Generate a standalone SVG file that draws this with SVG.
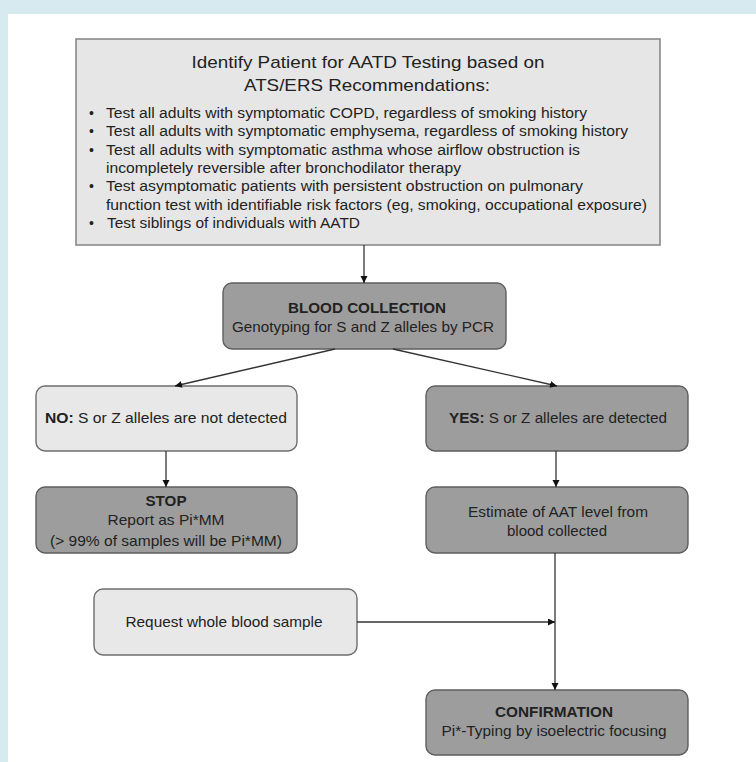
<svg xmlns="http://www.w3.org/2000/svg" width="756" height="762" viewBox="0 0 756 762">
<defs>
<marker id="ah" markerWidth="8" markerHeight="8" refX="7" refY="3.5" orient="auto" markerUnits="userSpaceOnUse">
<path d="M0,0 L7,3.5 L0,7 z" fill="#111"/>
</marker>
<style>
text{font-family:"Liberation Sans",Arial,sans-serif;fill:#222;}
.t{font-size:15px;}
.b{font-size:14.5px;}
.bold{font-weight:bold;}
.top{fill:#e6e6e6;stroke:#8a8a8a;stroke-width:1.6;}
.light{fill:#e8e8e8;stroke:#6e6e6e;stroke-width:1.4;}
.dark{fill:#9d9d9d;stroke:#5e5e5e;stroke-width:1.4;}
.c{stroke:#333;stroke-width:1.3;fill:none;marker-end:url(#ah);}
</style>
</defs>
<rect x="0" y="0" width="756" height="762" fill="#d6eaf0"/>
<rect x="8" y="14" width="748" height="748" fill="#ffffff"/>

<g id="identify">
<rect class="top" x="76" y="39" width="584" height="206"/>
<text x="368" y="68" text-anchor="middle" style="font-size:17px" textLength="353" lengthAdjust="spacingAndGlyphs">Identify Patient for AATD Testing based on</text>
<text x="367" y="91" text-anchor="middle" style="font-size:17px" textLength="246" lengthAdjust="spacingAndGlyphs">ATS/ERS Recommendations:</text>
<g style="font-size:14px">
<text x="89" y="118">•</text>
<text x="106" y="118" textLength="481" lengthAdjust="spacingAndGlyphs">Test all adults with symptomatic COPD, regardless of smoking history</text>
<text x="89" y="136">•</text>
<text x="106" y="136" textLength="522" lengthAdjust="spacingAndGlyphs">Test all adults with symptomatic emphysema, regardless of smoking history</text>
<text x="89" y="155">•</text>
<text x="106" y="155" textLength="474" lengthAdjust="spacingAndGlyphs">Test all adults with symptomatic asthma whose airflow obstruction is</text>
<text x="106" y="173" textLength="355" lengthAdjust="spacingAndGlyphs">incompletely reversible after bronchodilator therapy</text>
<text x="89" y="191">•</text>
<text x="106" y="191" textLength="477" lengthAdjust="spacingAndGlyphs">Test asymptomatic patients with persistent obstruction on pulmonary</text>
<text x="106" y="210" textLength="541" lengthAdjust="spacingAndGlyphs">function test with identifiable risk factors (eg, smoking, occupational exposure)</text>
<text x="89" y="228">•</text>
<text x="107" y="228" textLength="253" lengthAdjust="spacingAndGlyphs">Test siblings of individuals with AATD</text>
</g>
</g>

<g id="blood">
<rect class="dark" x="223" y="283" width="283" height="66" rx="9"/>
<text class="b bold" x="367" y="313" text-anchor="middle" textLength="158" lengthAdjust="spacingAndGlyphs">BLOOD COLLECTION</text>
<text class="t" x="363" y="332" text-anchor="middle" textLength="262" lengthAdjust="spacingAndGlyphs">Genotyping for S and Z alleles by PCR</text>
</g>

<g id="no">
<rect class="light" x="36" y="386" width="261" height="65" rx="9"/>
<text class="t" x="166" y="423" text-anchor="middle" textLength="242" lengthAdjust="spacingAndGlyphs"><tspan class="bold">NO:</tspan> S or Z alleles are not detected</text>
</g>

<g id="yes">
<rect class="dark" x="426" y="386" width="262" height="65" rx="9"/>
<text class="t" x="558" y="423" text-anchor="middle" textLength="218" lengthAdjust="spacingAndGlyphs"><tspan class="bold">YES:</tspan> S or Z alleles are detected</text>
</g>

<g id="stop">
<rect class="dark" x="36" y="487" width="261" height="66" rx="9"/>
<text class="b bold" x="166" y="506" text-anchor="middle" textLength="41" lengthAdjust="spacingAndGlyphs">STOP</text>
<text class="t" x="166" y="525" text-anchor="middle" textLength="117" lengthAdjust="spacingAndGlyphs">Report as Pi*MM</text>
<text class="t" x="166" y="546" text-anchor="middle" textLength="232" lengthAdjust="spacingAndGlyphs">(&gt; 99% of samples will be Pi*MM)</text>
</g>

<g id="estimate">
<rect class="dark" x="426" y="487" width="262" height="66" rx="9"/>
<text class="t" x="558" y="517" text-anchor="middle" textLength="180" lengthAdjust="spacingAndGlyphs">Estimate of AAT level from</text>
<text class="t" x="557" y="536" text-anchor="middle">blood collected</text>
</g>

<g id="request">
<rect class="light" x="94" y="589" width="263" height="66" rx="9"/>
<text class="t" x="224" y="627" text-anchor="middle" textLength="197" lengthAdjust="spacingAndGlyphs">Request whole blood sample</text>
</g>

<g id="confirmation">
<rect class="dark" x="426" y="690" width="262" height="65" rx="9"/>
<text class="b bold" x="554" y="717" text-anchor="middle" textLength="118" lengthAdjust="spacingAndGlyphs">CONFIRMATION</text>
<text class="t" x="554" y="736" text-anchor="middle" textLength="225" lengthAdjust="spacingAndGlyphs">Pi*-Typing by isoelectric focusing</text>
</g>

<g id="connectors">
<line class="c" x1="364" y1="245" x2="364" y2="283"/>
<line class="c" x1="335" y1="349" x2="175" y2="386"/>
<line class="c" x1="393" y1="349" x2="557" y2="386"/>
<line class="c" x1="166" y1="451" x2="166" y2="487"/>
<line class="c" x1="556" y1="451" x2="556" y2="487"/>
<line class="c" x1="555" y1="553" x2="555" y2="690"/>
<line class="c" x1="357" y1="622" x2="555" y2="622"/>
</g>
</svg>
